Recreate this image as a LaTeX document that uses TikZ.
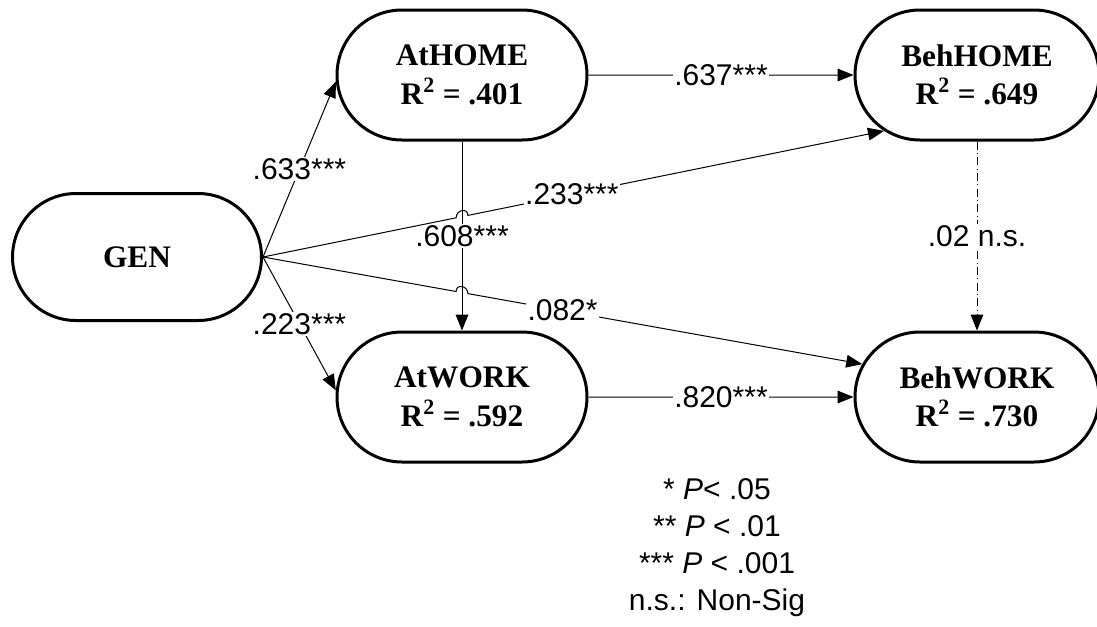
\documentclass[tikz,border=0pt]{standalone}
\usepackage{fontspec}
\setmainfont{Liberation Serif}
\setsansfont{Liberation Sans}
\usetikzlibrary{shapes.misc,arrows.meta,calc}

\begin{document}
\begin{tikzpicture}[x=0.75pt,y=-0.75pt,
  construct/.style={draw,line width=2.25pt,rounded rectangle,inner sep=0pt,minimum width=187.5pt,minimum height=97.5pt},
  caption/.style={align=center,font=\fontsize{23.5}{29}\selectfont\bfseries},
  effect/.style={line width=0.75pt,-{Triangle[length=12pt,width=9.5pt]}},
  coef/.style={fill=white,inner sep=1pt,font=\sffamily\fontsize{22.5}{27}\selectfont},
  nonsig/.style={dash pattern=on 6pt off 2.5pt on 0.75pt off 2.5pt}]
\useasboundingbox (0,0) rectangle (1097,626);
\node (GEN) at (137,257) [construct,minimum width=186.75pt,minimum height=95.25pt,label={[caption]center:GEN}] {};
\node (AtHOME) at (462,75) [construct,label={[caption]center:AtHOME\\R\textsuperscript{2} = .401}] {};
\node (BehHOME) at (977,75) [construct,minimum width=183pt,label={[caption]center:BehHOME\\R\textsuperscript{2} = .649}] {};
\node (AtWORK) at (462,397) [construct,label={[caption]center:AtWORK\\R\textsuperscript{2} = .592}] {};
\node (BehWORK) at (977,397) [construct,minimum width=183pt,label={[caption]center:BehWORK\\R\textsuperscript{2} = .730}] {};
\coordinate (hopHOME) at (intersection of GEN.east--BehHOME.211 and AtHOME.south--AtWORK.north);
\coordinate (hopWORK) at (intersection of GEN.east--BehWORK.164 and AtHOME.south--AtWORK.north);
\draw[effect] (GEN.east) -- (AtHOME.183) node[coef,midway] {.633***};
\draw[effect] (GEN.east) -- (AtWORK.177) node[coef,midway] {.223***};
\draw[effect] (AtHOME.south) -- (AtWORK.north) node[coef,midway] {.608***};
\draw[effect] (GEN.east) -- ($(hopHOME)!4.5pt!(GEN.east)$) .. controls +(0,6pt) and +(0,6pt) .. ($(hopHOME)!4.5pt!(BehHOME.211)$) -- (BehHOME.211) node[coef,pos=0.25] {.233***};
\draw[effect] (GEN.east) -- ($(hopWORK)!4.5pt!(GEN.east)$) .. controls +(0,6pt) and +(0,6pt) .. ($(hopWORK)!4.5pt!(BehWORK.164)$) -- (BehWORK.164) node[coef,pos=0.24] {.082*};
\draw[effect] (AtHOME) -- (BehHOME) node[coef,midway] {.637***};
\draw[effect] (AtWORK) -- (BehWORK) node[coef,midway] {.820***};
\draw[effect,nonsig] (BehHOME.south) -- (BehWORK.north) node[coef,midway] {.02 n.s.};
\node (legend) at (717,548) [align=center,font=\sffamily\fontsize{22.5}{27.75}\selectfont] {* \textit{P}< .05\\** \textit{P} < .01\\*** \textit{P} < .001\\n.s.: Non-Sig};
\end{tikzpicture}
\end{document}
